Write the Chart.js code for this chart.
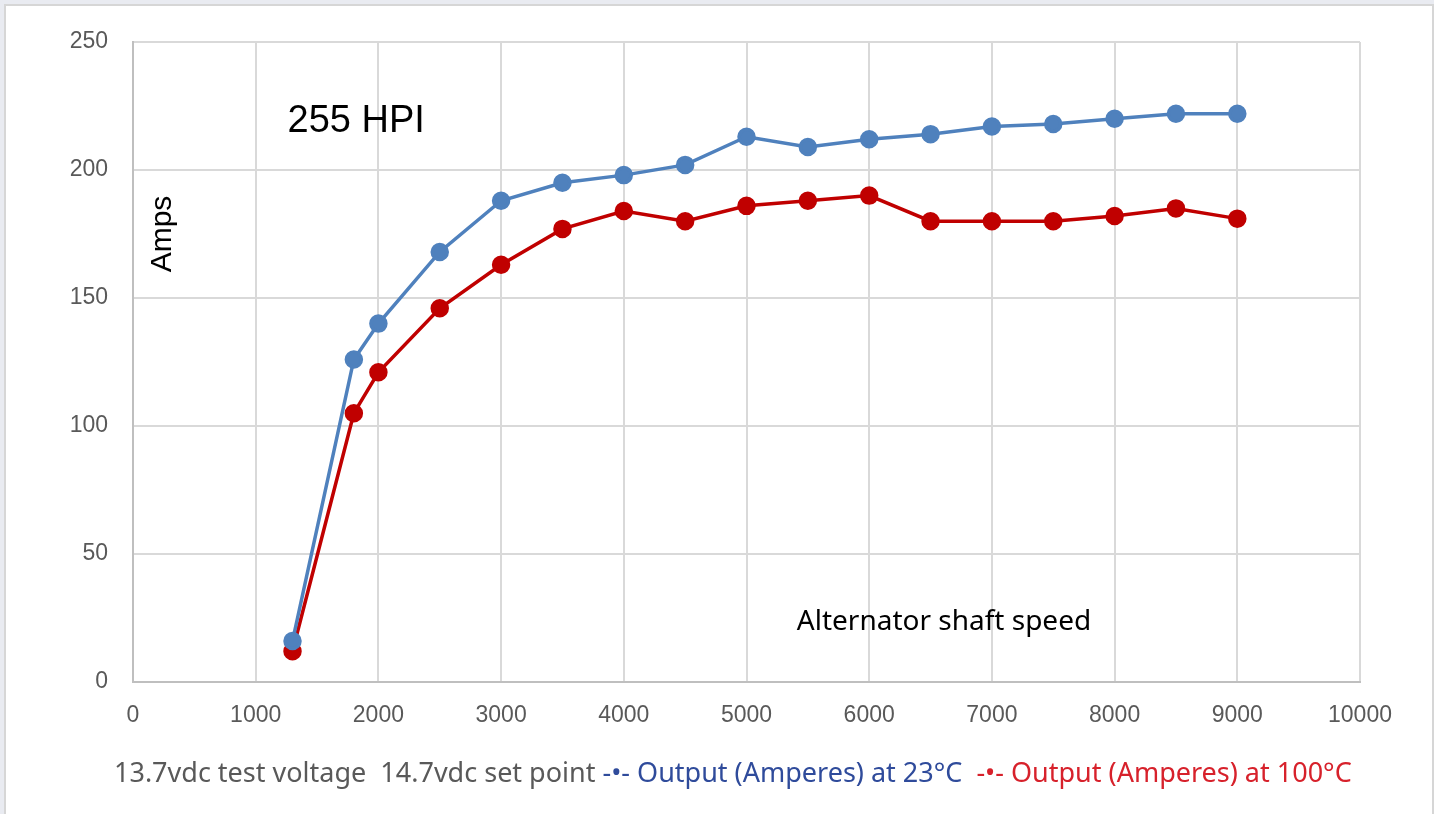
<!DOCTYPE html>
<html>
<head>
<meta charset="utf-8">
<script src="https://cdn.jsdelivr.net/npm/chart.js@4"></script>
<style>
  html, body { margin: 0; padding: 0; background: #e9ebf1; }
  #card { position: absolute; left: 4px; top: 4px; width: 1426px; height: 812px;
          background: #fff; border: 2px solid #d6d6d6; border-bottom: none; }
  #wrap { position: absolute; left: 0; top: 0; width: 1434px; height: 814px; }
</style>
</head>
<body>
<div id="card"></div>
<div id="wrap"><canvas id="lineChart"></canvas></div>
<script>
// shaft speed (rpm) and output current readings
var rpm = [1300, 1800, 2000, 2500, 3000, 3500, 4000, 4500, 5000, 5500, 6000, 6500, 7000, 7500, 8000, 8500, 9000];
var amps23 = [16, 126, 140, 168, 188, 195, 198, 202, 213, 209, 212, 214, 217, 218, 220, 222, 222];
var amps100 = [12, 105, 121, 146, 163, 177, 184, 180, 186, 188, 190, 180, 180, 180, 182, 185, 181];

var legendParts = [
  { text: "13.7vdc test voltage  14.7vdc set point ", color: "#595959" },
  { text: "-\u2022- Output (Amperes) at 23\u00b0C  ", color: "#2f4b9b" },
  { text: "-\u2022- Output (Amperes) at 100\u00b0C", color: "#d7212b" }
];

function toPoints(xs, ys) {
  return xs.map(function (x, i) { return { x: x, y: ys[i] }; });
}

// text placed on the chart: title, axis captions and the legend line
var annotations = {
  id: 'annotations',
  afterDraw: function (chart) {
    var ctx = chart.ctx;
    var xs = chart.scales.x, ys = chart.scales.y;
    ctx.save();
    ctx.fillStyle = "#000";
    ctx.textBaseline = "middle";
    ctx.font = "38px 'Liberation Sans', Arial, sans-serif";
    ctx.fillText("255 HPI", xs.getPixelForValue(1260), ys.getPixelForValue(219));

    ctx.font = "28px 'Noto Sans', sans-serif";
    ctx.fillText("Alternator shaft speed", xs.getPixelForValue(5410), ys.getPixelForValue(23.5));

    ctx.save();
    ctx.translate(163, ys.getPixelForValue(175));
    ctx.rotate(-Math.PI / 2);
    ctx.textAlign = "center";
    ctx.font = "30px 'Liberation Sans', Arial, sans-serif";
    ctx.fillText("Amps", 0, 0);
    ctx.restore();

    ctx.font = "27px 'Noto Sans', sans-serif";
    var x = 114;
    legendParts.forEach(function (p) {
      ctx.fillStyle = p.color;
      ctx.fillText(p.text, x, 774);
      x += ctx.measureText(p.text).width;
    });
    ctx.restore();
  }
};

var ctx = document.getElementById("lineChart");
var lineChart = new Chart(ctx, {
  type: 'line',
  data: {
    datasets: [
      {
        label: "Output (Amperes) at 23\u00b0C",
        data: toPoints(rpm, amps23),
        borderColor: "#4f81bd",
        backgroundColor: "#4f81bd",
        borderWidth: 3.5,
        pointRadius: 7.5,
        pointHoverRadius: 7.5
      },
      {
        label: "Output (Amperes) at 100\u00b0C",
        data: toPoints(rpm, amps100),
        borderColor: "#c00000",
        backgroundColor: "#c00000",
        borderWidth: 3.5,
        pointRadius: 7.5,
        pointHoverRadius: 7.5
      }
    ]
  },
  options: {
    responsive: true,
    maintainAspectRatio: false,
    animation: false,
    layout: { padding: { top: 42, right: 74, left: 0, bottom: 0 } },
    plugins: { legend: { display: false }, tooltip: { enabled: false } },
    scales: {
      x: {
        type: 'linear',
        min: 0, max: 10000,
        ticks: { stepSize: 1000, color: "#595959", padding: 20,
                 callback: function (v) { return String(v); },
                 font: { size: 23, family: "'Liberation Sans', Arial, sans-serif" } },
        grid: { color: "#d9d9d9", lineWidth: 2, drawTicks: false },
        border: { color: "#bfbfbf", width: 2 },
        afterFit: function (s) { s.height = 132; }
      },
      y: {
        min: 0, max: 250,
        ticks: { stepSize: 50, color: "#595959", padding: 25,
                 font: { size: 23, family: "'Liberation Sans', Arial, sans-serif" } },
        grid: { color: "#d9d9d9", lineWidth: 2, drawTicks: false },
        border: { color: "#bfbfbf", width: 2 },
        afterFit: function (s) { s.width = 133; }
      }
    }
  },
  plugins: [annotations]
});
</script>
</body>
</html>
